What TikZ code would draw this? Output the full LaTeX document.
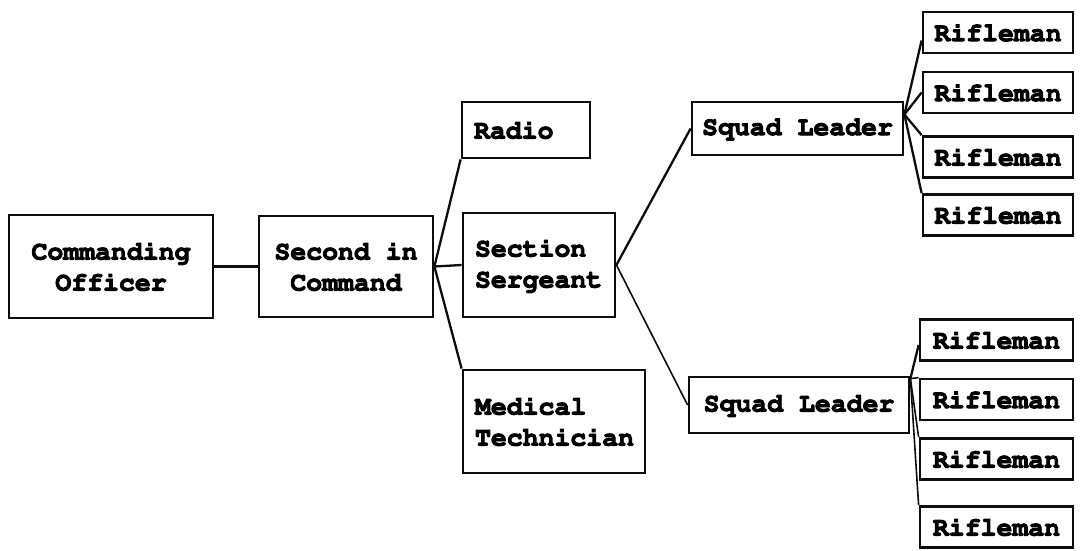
\documentclass[tikz,border=0pt]{standalone}
\usepackage[T1]{fontenc}
\usetikzlibrary{calc}
\definecolor{BoxClr}{rgb}{0.05,0.05,0.05}
% heavier type, as in the printed chart
\newcommand\heavyon{\special{pdf:literal direct 2 Tr 0.9 w}}
\newcommand\heavyoff{\special{pdf:literal direct 0 Tr}}

\tikzset{
  unit/.style={draw=BoxClr,line width=2.8pt,inner sep=0pt,align=center,
    font=\fontfamily{pcr}\bfseries\fontsize{26.5}{31}\selectfont,
    execute at begin node=\heavyon,execute at end node=\heavyoff},
  unitleft/.style={unit,align=left,inner xsep=12pt},
  link/.style={draw=BoxClr,line width=2.3pt},
  thinlink/.style={draw=BoxClr,line width=1.6pt}
}

\begin{document}
\begin{tikzpicture}[x=1pt,y=-1pt]
\useasboundingbox (0,0) rectangle (1082,551);

% command group
\node[unit,minimum width=204pt,minimum height=103pt] (co) at (111,266.5) {Commanding\\Officer};
\node[unit,minimum width=174pt,minimum height=101pt] (sic) at (346,266.5) {Second in\\Command};

\node[unitleft,text width=104pt,minimum height=56pt] (radio) at (526,130) {Radio};
\node[unitleft,text width=128pt,minimum height=104pt] (ss) at (539,265) {Section\\Sergeant};
\node[unitleft,text width=158pt,minimum height=103pt] (med) at (554,421.5) {Medical\\Technician};

% squads
\node[unit,minimum width=211pt,minimum height=53pt] (sqt) at (797.5,128.5) {Squad Leader};
\node[unit,minimum width=220pt,minimum height=56pt] (sqb) at (799,405) {Squad Leader};

\foreach \n/\y in {1/32.5,2/92.5,3/157,4/215}
  \node[unit,minimum width=150pt,minimum height=41pt] (rt\n) at (998,\y) {Rifleman};
\foreach \n/\y in {1/340,2/399.5,3/459,4/527}
  \node[unit,minimum width=153pt,minimum height=41pt] (rb\n) at (996.5,\y) {Rifleman};

% connectors
\draw[link] (co.east) -- (sic.west);
\draw[link] (sic.east) -- (radio.south west);
\draw[link] (sic.east) -- (ss.west);
\draw[link] (sic.east) -- (med.north west);

\draw[link] (ss.east) -- (sqt.west);
\draw[thinlink] (ss.east) -- (sqb.west);

\coordinate (sqtfan) at ([yshift=14pt]sqt.east);
\draw[link] (sqtfan) -- ([yshift=-8pt]rt1.west);
\draw[link] (sqtfan) -- (rt2.west);
\draw[link] (sqtfan) -- (rt3.north west);
\draw[link] (sqtfan) -- (rt4.north west);

\coordinate (sqbfan) at ([yshift=-3pt]sqb.north east);
\draw[link] (sqbfan) -- ([yshift=-5pt]rb1.west);
\draw[thinlink] (sqbfan) -- (rb2.north west);
\draw[thinlink] (sqbfan) -- (rb3.north west);
\draw[thinlink] (sqbfan) -- (rb4.north west);

\end{tikzpicture}
\end{document}
